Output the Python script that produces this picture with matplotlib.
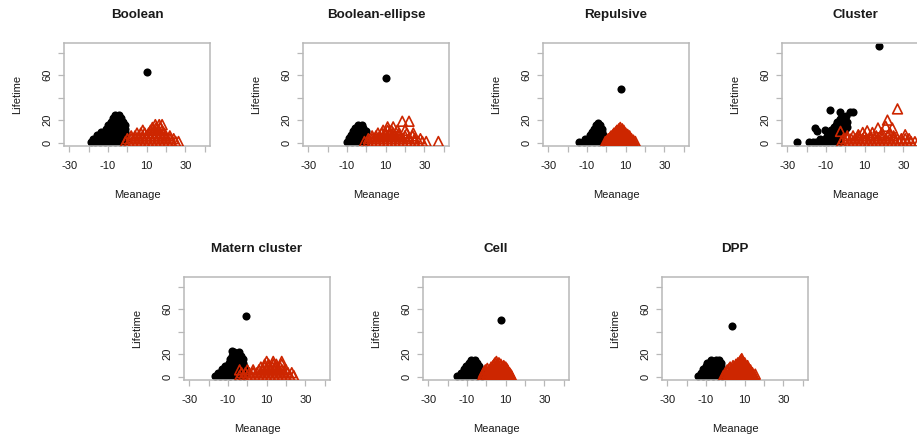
import matplotlib
matplotlib.use("Agg")
import matplotlib.pyplot as plt

plt.rcParams['font.family'] = ['Liberation Sans', 'DejaVu Sans']

W, H = 917, 434

titles = ["Boolean", "Boolean-ellipse", "Repulsive", "Cluster",
          "Matern cluster", "Cell", "DPP"]

# each group is stored row by row: (Lifetime, [Meanage values on that row])
boolean_black = [(1, [-19, -16.5, -14, -11.5, -9, -6.5, -4, -1.5]),
                 (3.5, [-18, -15.5, -13, -10.5, -8, -5.5, -3, -0.5]),
                 (6.5, [-15.5, -13, -10.5, -8, -5.5, -3, -0.5]),
                 (9.5, [-13.5, -11, -8.5, -6, -3.5, -1]),
                 (12.5, [-11, -8.5, -6, -3.5, -1]),
                 (15.5, [-10, -7.5, -5, -2.5, -1]),
                 (18.5, [-8.5, -6, -3.5, -2]),
                 (21.5, [-7.5, -5, -3.5]),
                 (24.5, [-6.5, -4.5])]
boolean_red = [(1, [-1, 1, 3, 5, 7, 9, 11, 13, 15, 17, 19, 21, 23, 25, 26.5]),
               (3.5, [0, 2, 4, 6, 8, 10, 12, 14, 16, 18, 20, 22, 24]),
               (6, [2, 4, 6, 8, 10, 12, 14, 16, 18, 20, 22]),
               (8.5, [5, 7, 9, 11, 13, 15, 17, 19]),
               (11, [8, 12, 14, 16, 18]),
               (13.5, [13, 15, 17]),
               (16, [14.5, 16.5, 18])]

ellipse_black = [(1, [-10, -7.5, -5, -2.5, 0]),
                 (4, [-9, -6.5, -4, -1.5, 0]),
                 (7, [-8, -5.5, -3, -0.5]),
                 (10, [-7, -4.5, -2, 0]),
                 (13, [-6, -3.5, -1.5]),
                 (16, [-4.5, -2])]
ellipse_red = [(1, [-1, 1, 3, 5, 7, 9, 11, 13, 15, 17, 19, 21, 23, 25, 27, 29, 31, 37.3]),
               (3.5, [1, 3, 5, 7, 9, 11, 13, 15, 17, 19, 22, 25, 28]),
               (6, [3, 5, 7, 9, 11, 13, 15, 17, 20, 24]),
               (8.5, [6, 8, 10, 12, 14, 17, 21, 24.3]),
               (11, [8.7, 11, 13, 16, 20]),
               (14, [11, 13.9]),
               (19, [18.6, 22.1])]

repulsive_black = [(1, [-14, -11.5, -9, -6.5, -4, -1.5]),
                   (3.5, [-11, -8.5, -6, -3.5, -1.5]),
                   (6.5, [-8.5, -6, -3.5, -1.5]),
                   (9.5, [-7.5, -5, -2.5]),
                   (12.5, [-6.5, -4, -2.5]),
                   (15.5, [-5.5, -3.5]),
                   (17.5, [-4.5])]
repulsive_red = [(1, [-0.5, 1.5, 3.5, 5.5, 7.5, 9.5, 11.5, 13.5, 15]),
                 (2.2, [0.5, 2.5, 4.5, 6.5, 8.5, 10.5, 12.5, 14]),
                 (3.5, [1, 3, 5, 7, 9, 11, 13]),
                 (4.8, [2, 4, 6, 8, 10, 12]),
                 (6, [2.5, 4.5, 6.5, 8.5, 10.5, 12]),
                 (7.3, [3.5, 5.5, 7.5, 9.5, 11]),
                 (8.5, [4, 6, 8, 10]),
                 (9.8, [5, 7, 9]),
                 (11, [5.5, 7.5, 9]),
                 (12.3, [6.5, 8.2]),
                 (13.5, [7.2])]

cluster_black = [(1, [-24.8, -19, -17, -15, -13, -11, -9, -7, -5, -3]),
                 (3.5, [-13, -10.5, -8, -5.5, -3]),
                 (6, [-9.5, -7, -4.5, -2]),
                 (8.5, [-8.5, -6, -3.5, -1]),
                 (10.5, [-14.7]),
                 (11, [-10.4, -7.5, -5, -2.5, 0]),
                 (13, [-15.6]),
                 (13.5, [-6, -3.5, -1, 1]),
                 (16, [-5, -2.5, 0]),
                 (18.5, [-4.3, -2, 0.9]),
                 (21, [-3, -0.5]),
                 (23.5, [-1.5, 0.5]),
                 (27.5, [-2.6, 2.6, 3.9]),
                 (29, [-7.8])]
cluster_red = [(1, [-2, 0, 2, 4, 6, 8, 10, 12, 14, 16, 18, 20, 22, 24, 26, 28, 30, 32, 34, 36, 38]),
               (3.5, [-1, 1, 3, 5, 7, 9, 11, 13, 15, 17, 19, 21, 23, 25, 27, 29, 31, 33]),
               (6, [1, 4, 7, 10, 13, 16, 19, 22, 25]),
               (7, [6.7, 31]),
               (9, [9, 14, 19, 23]),
               (10, [-2.5]),
               (10.5, [11.3]),
               (13, [16.9, 24.3]),
               (14.5, [20.9]),
               (20, [21.8]),
               (30, [27])]

matern_black = [(1, [-16.5, -14, -11.5, -9, -6.5, -4, -1.5]),
                (3.5, [-15, -12.5, -10, -7.5, -5, -2.5, -1]),
                (6.5, [-13, -10.5, -8, -5.5, -3, -1]),
                (9.5, [-11.5, -9, -6.5, -4, -1.5]),
                (12.5, [-9.5, -7, -4.5, -2.5]),
                (15.5, [-9, -6.5, -4, -2.5]),
                (18.5, [-8, -5.5, -3.5]),
                (21.5, [-7, -4.5]),
                (23, [-8])]
matern_red = [(1, [-4, -2, 0, 2, 4, 6, 8, 10, 12, 14, 16, 18, 20, 22, 24]),
              (3.5, [-3, -1, 1, 3, 5, 7, 9, 11, 13, 15, 17, 19, 21, 23]),
              (6, [-4, 0, 3, 6, 8, 10, 12, 14, 16, 18, 20]),
              (8.5, [7, 9, 11, 13, 15, 17]),
              (11, [9, 11, 13.4, 15, 17.8]),
              (13.5, [10, 13.4, 17.8])]

cell_black = [(1, [-15, -12.5, -10, -7.5, -5, -2.5]),
              (3.5, [-13, -10.5, -8, -5.5, -3]),
              (6.5, [-11.5, -9, -6.5, -4]),
              (9.5, [-10.5, -8, -5.5, -4]),
              (12.5, [-9, -6.5, -5]),
              (15, [-8, -6])]
cell_red = [(1, [-2, 0, 2, 4, 6, 8, 10, 12, 13]),
            (2.2, [-1, 1, 3, 5, 7, 9, 11, 12.5]),
            (3.5, [-1.5, 0.5, 2.5, 4.5, 6.5, 8.5, 10.5, 12]),
            (4.8, [-1, 1, 3, 5, 7, 9, 11]),
            (6, [-0.5, 1.5, 3.5, 5.5, 7.5, 9.5, 11]),
            (7.3, [0.5, 2.5, 4.5, 6.5, 8.5, 10.5]),
            (8.5, [2.5, 4.5, 6.5, 8.5, 10]),
            (9.8, [3.5, 5.5, 7.5, 9]),
            (11, [4, 5.5, 7.5]),
            (12.3, [4.5, 6.5]),
            (13.5, [5.2])]

dpp_black = [(1, [-14, -11.5, -9, -6.5, -4, -1.5]),
             (3.5, [-12.5, -10, -7.5, -5, -2.5]),
             (6.5, [-11.5, -9, -6.5, -4, -2]),
             (9.5, [-10, -7.5, -5, -2.5]),
             (12.5, [-9.5, -7, -4.5, -2]),
             (15, [-7.5, -5, -3.5])]
dpp_red = [(1, [-1, 1, 3, 5, 7, 9, 11, 13, 15]),
           (2.2, [0, 2, 4, 6, 8, 10, 12, 14, 15.5]),
           (3.5, [0, 2, 4, 6, 8, 10, 12, 14]),
           (4.8, [1, 3, 5, 7, 9, 11, 13]),
           (6, [1, 3, 5, 7, 9, 11, 13]),
           (7.3, [2, 4, 6, 8, 10, 12]),
           (8.5, [2.5, 5, 7, 9, 11]),
           (9.8, [4, 6, 8, 10, 11.5]),
           (11, [5.5, 7.5, 9.5]),
           (12.3, [6.5, 8.5, 10]),
           (13.5, [7.5, 9]),
           (14.8, [8]),
           (16, [8.5])]

# the single long-lived black point in each panel
outlier_x = [10, 10, 7.7, 17.5, -0.8, 7.8, 3.7]
outlier_y = [63, 57.5, 47.7, 86, 53.6, 50.7, 44.7]

blacks = [boolean_black, ellipse_black, repulsive_black, cluster_black,
          matern_black, cell_black, dpp_black]
reds = [boolean_red, ellipse_red, repulsive_red, cluster_red,
        matern_red, cell_red, dpp_red]

xticks = [-30, -20, -10, 0, 10, 20, 30, 40]
xticklabels = ["-30", "", "-10", "", "10", "", "30", ""]
yticks = [0, 20, 40, 60, 80]
yticklabels = ["0", "20", "", "60", ""]

# box corners in pixels: (left, top)
boxes = [(64, 43), (303, 43), (543, 43), (782, 43),
         (184, 277), (423, 277), (662, 277)]
bw, bh = 146, 103


def unpack(rows):
    xs, ys = [], []
    for y, row in rows:
        for x in row:
            xs.append(x)
            ys.append(y)
    return xs, ys


fig = plt.figure(figsize=(W / 100, H / 100), dpi=100)
grey = "#b8b8b8"
txt = "#1a1a1a"

for i in range(7):
    left, top = boxes[i]
    ax = fig.add_axes([left / W, 1 - (top + bh) / H, bw / W, bh / H])
    bx, by = unpack(blacks[i])
    rx, ry = unpack(reds[i])
    bx.append(outlier_x[i])
    by.append(outlier_y[i])
    ax.scatter(bx, by, s=34, c="black", marker="o", linewidths=0, zorder=2)
    ax.scatter(rx, ry, s=50, marker="^", facecolors="none", edgecolors="#cd2600",
               linewidths=1.2, zorder=3)
    ax.set_xlim(-32.8, 42.8)
    ax.set_ylim(-3.0, 88.6)
    ax.set_xticks(xticks)
    ax.set_xticklabels(xticklabels)
    ax.set_yticks(yticks)
    ax.set_yticklabels(yticklabels, rotation=90, va="center")
    ax.tick_params(axis="both", direction="out", length=4.5, width=0.9,
                   color=grey, labelsize=8, labelcolor=txt)
    ax.tick_params(axis="x", pad=6.5)
    ax.tick_params(axis="y", pad=4)
    for sp in ax.spines.values():
        sp.set_color(grey)
        sp.set_linewidth(1.1)
    ax.text(0.5, 1 + 28 / bh, titles[i], transform=ax.transAxes, ha="center",
            va="center", fontsize=9.6, fontweight="bold", color=txt)
    ax.text(0.5, -49 / bh, "Meanage", transform=ax.transAxes, ha="center",
            va="center", fontsize=8, color=txt)
    ax.text(-47 / bw, 0.5, "Lifetime", transform=ax.transAxes, ha="center",
            va="center", rotation=90, fontsize=8, color=txt)

fig.savefig("out.png", dpi=100)
